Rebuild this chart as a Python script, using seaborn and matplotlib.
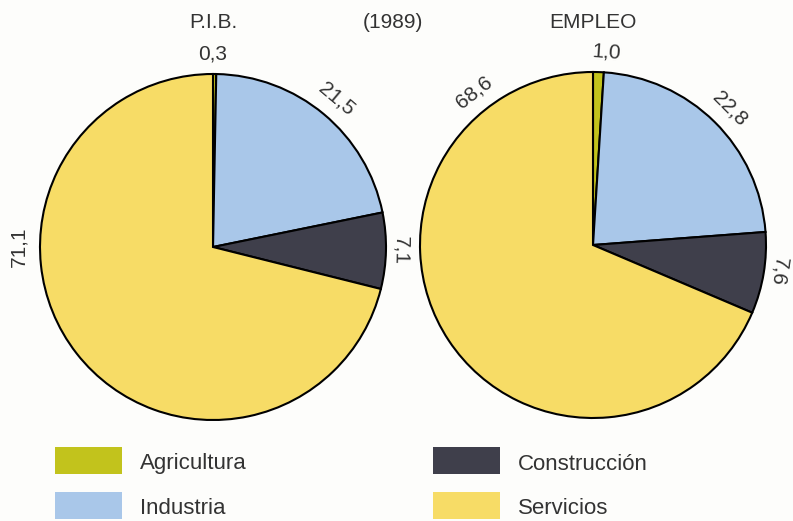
import numpy as np
import matplotlib
matplotlib.use("Agg")
import matplotlib.pyplot as plt
from matplotlib.patches import Rectangle
import seaborn as sns

# data
sectors = ["Agricultura", "Industria", "Construcción", "Servicios"]
pib = [0.3, 21.5, 7.1, 71.1]
empleo = [1.0, 22.8, 7.6, 68.6]
pie_titles = ["P.I.B.", "EMPLEO"]
year_label = "(1989)"
value_labels_pib = ["0,3", "21,5", "7,1", "71,1"]
value_labels_empleo = ["1,0", "22,8", "7,6", "68,6"]

colors = ["#c2c31c", "#a9c7e9", "#3f3f4b", "#f7dc66"]
text_color = "#333333"

sns.set_theme(style="white")
plt.rcParams["font.family"] = ["Liberation Sans", "DejaVu Sans"]

W, H = 793, 521
fig = plt.figure(figsize=(W / 100, H / 100), dpi=100)
fig.patch.set_facecolor("#fdfdfb")
ax = fig.add_axes([0, 0, 1, 1])
ax.set_facecolor("#fdfdfb")

# layout (pixel units, y up)
centers = [(213, H - 247), (593, H - 245)]
radius = 173
label_r = [193, 193, 188, 194]
# angles (deg) where the value labels sit; services label is placed by hand
label_angles = [[90, 50, -1, 180], [86, 45, -8, 128]]

for (cx, cy), vals, labs, angs, title in zip(
        centers, [pib, empleo], [value_labels_pib, value_labels_empleo],
        label_angles, pie_titles):
    ax.pie(vals, colors=colors, startangle=90, counterclock=False,
           center=(cx, cy), radius=radius,
           wedgeprops=dict(edgecolor="black", linewidth=1.5))
    for lab, a, r in zip(labs, angs, label_r):
        t = np.deg2rad(a)
        ax.text(cx + r * np.cos(t), cy + r * np.sin(t), lab,
                rotation=a - 90, rotation_mode="anchor",
                ha="center", va="center", fontsize=15, color=text_color)
    ax.text(cx, H - 23, title, ha="center", va="center", fontsize=15,
            color=text_color)

ax.text(393, H - 23, year_label, ha="center", va="center", fontsize=15,
        color=text_color)

# legend
legend_pos = [(55, 447), (55, 492), (433, 447), (433, 492)]
for i, (lx, ly) in enumerate(legend_pos):
    ax.add_patch(Rectangle((lx, H - ly - 27), 67, 27, facecolor=colors[i],
                           edgecolor="none"))
    ax.text(lx + 85, H - ly - 17, sectors[i], ha="left", va="center",
            fontsize=16, color=text_color)

ax.set_xlim(0, W)
ax.set_ylim(0, H)
ax.set_aspect("equal")
ax.axis("off")

fig.savefig("out.png", dpi=100, facecolor=fig.get_facecolor())
plt.close(fig)
